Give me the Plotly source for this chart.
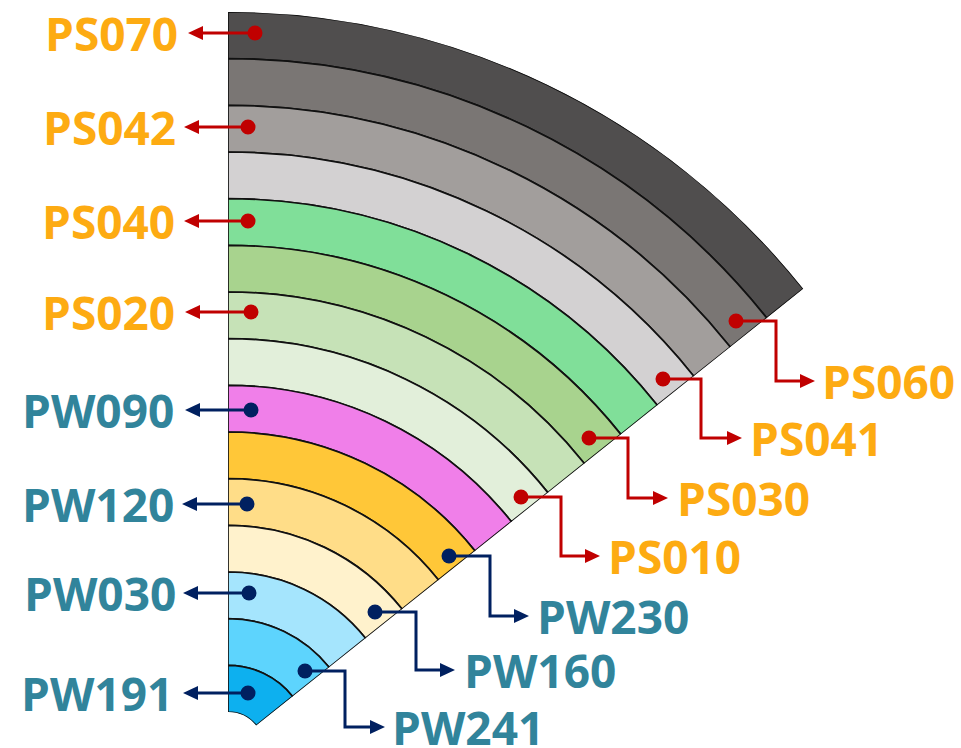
import numpy as np
import plotly.graph_objects as go

# bands, outermost first
bands = ["PS070", "PS060", "PS042", "PS041", "PS040", "PS030", "PS020", "PS010",
         "PW090", "PW230", "PW120", "PW160", "PW030", "PW241", "PW191"]
thickness = [1] * 15
band_colors = ["#504e4e", "#7a7674", "#a29e9c", "#d3d1d2", "#80df99", "#a8d38e",
               "#c6e2b7", "#e2efda", "#f07fe9", "#ffc738", "#ffdd88", "#fff2cc",
               "#a5e5fd", "#5dd4fd", "#0db0ef"]
left_labels = ["PS070", "PS042", "PS040", "PS020", "PW090", "PW120", "PW030", "PW191"]
right_labels = ["PS060", "PS041", "PS030", "PS010", "PW230", "PW160", "PW241"]

W, H = 961, 748
SECTOR = [38.6, 90]
CX, CY, R = 228, 748, 736
HOLE = 36 / R

ORANGE = "#fdab12"
TEAL = "#31849b"
RED = "#c00000"
NAVY = "#002060"


def fx(x):
    return x / W


def fy(y):
    return 1 - y / H


# stack from centre outward
inner_first = thickness[::-1]
base = np.concatenate([[0], np.cumsum(inner_first)[:-1]])[::-1]
total = sum(thickness)

fig = go.Figure(go.Barpolar(
    r=thickness,
    base=base,
    theta=[(SECTOR[0] + SECTOR[1]) / 2] * len(bands),
    width=[SECTOR[1] - SECTOR[0]] * len(bands),
    marker=dict(color=band_colors, line=dict(color="#111111", width=1.7)),
    text=bands,
    hovertemplate="%{text}<extra></extra>",
))

x1 = CX + R * np.cos(np.radians(SECTOR[0]))
fig.update_layout(
    width=W, height=H, autosize=False,
    margin=dict(l=0, r=0, t=0, b=0),
    paper_bgcolor="white",
    showlegend=False,
    polar=dict(
        domain=dict(x=[fx(CX), fx(x1)], y=[0, R / H]),
        sector=SECTOR,
        hole=HOLE,
        bgcolor="white",
        barmode="overlay",
        radialaxis=dict(range=[0, total], visible=False, showgrid=False),
        angularaxis=dict(visible=False, showgrid=False),
    ),
)

# left call-outs: (dot x, dot y, arrow tip x, label right edge)
left_pos = [(255, 33, 188, 180), (248, 127, 184, 178), (248, 221, 184, 177),
            (251, 312, 185, 177), (251, 410, 185, 176), (247, 504, 182, 176),
            (249, 593, 183, 178), (248, 693, 183, 175)]
# right call-outs: (dot x, dot y, elbow x, label y, arrow tip x, label left edge)
right_pos = [(736, 321, 776, 381, 815, 820), (663, 379, 701, 438, 742, 748),
             (589, 438, 628, 498, 668, 675), (521, 497, 561, 556, 600, 606),
             (449, 556, 490, 616, 529, 535), (375, 612, 416, 670, 455, 462),
             (305, 671, 345, 727, 385, 390)]

shapes, annots = [], []
AL, AW, DOT = 15, 7, 7.5


def dot(x, y, c):
    shapes.append(dict(type="circle", xref="paper", yref="paper",
                       x0=fx(x - DOT), x1=fx(x + DOT), y0=fy(y + DOT), y1=fy(y - DOT),
                       fillcolor=c, line=dict(width=0)))


def head(tip, y, c, direction):
    b = tip - direction * AL
    shapes.append(dict(type="path", xref="paper", yref="paper",
                       path=f"M {fx(tip)} {fy(y)} L {fx(b)} {fy(y - AW)} L {fx(b)} {fy(y + AW)} Z",
                       fillcolor=c, line=dict(width=0)))


for name, (xd, yd, tip, xr) in zip(left_labels, left_pos):
    c = RED if name.startswith("PS") else NAVY
    shapes.append(dict(type="line", xref="paper", yref="paper",
                       x0=fx(xd), y0=fy(yd), x1=fx(tip + AL - 1), y1=fy(yd),
                       line=dict(color=c, width=3)))
    head(tip, yd, c, -1)
    dot(xd, yd, c)
    annots.append(dict(text=name, x=fx(xr), y=fy(yd), xref="paper", yref="paper",
                       xanchor="right", yanchor="middle", showarrow=False,
                       font=dict(family="Open Sans", size=46, weight="bold",
                                 color=ORANGE if name.startswith("PS") else TEAL)))

for name, (xd, yd, xe, yl, tip, xl) in zip(right_labels, right_pos):
    c = RED if name.startswith("PS") else NAVY
    shapes.append(dict(type="path", xref="paper", yref="paper",
                       path=f"M {fx(xd)} {fy(yd)} L {fx(xe)} {fy(yd)} L {fx(xe)} {fy(yl)} L {fx(tip - AL + 1)} {fy(yl)}",
                       line=dict(color=c, width=3)))
    head(tip, yl, c, 1)
    dot(xd, yd, c)
    annots.append(dict(text=name, x=fx(xl), y=fy(yl), xref="paper", yref="paper",
                       xanchor="left", yanchor="middle", showarrow=False,
                       font=dict(family="Open Sans", size=46, weight="bold",
                                 color=ORANGE if name.startswith("PS") else TEAL)))

fig.update_layout(shapes=shapes, annotations=annots)
fig.write_html("out.html", config={"displayModeBar": False},
               post_script="document.body.style.margin='0';")
